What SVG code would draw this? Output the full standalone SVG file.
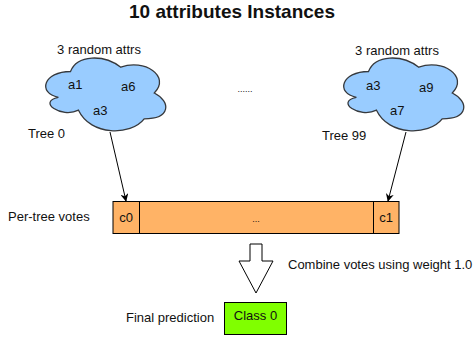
<svg xmlns="http://www.w3.org/2000/svg" width="473" height="338" viewBox="0 0 473 338">
  <style>
    text { font-family: "Liberation Sans", Arial, sans-serif; font-size: 13px; fill: #111; }
    .title { font-size: 19px; font-weight: bold; }
    .mid { text-anchor: middle; }
    .cloud { fill: #99ccff; stroke: #36393d; stroke-width: 1.3; }
    .cell { fill: #ffb366; stroke: #000; stroke-width: 1; }
    .result { fill: #80ff00; stroke: #000; stroke-width: 1; }
    .link { stroke: #000; stroke-width: 1; fill: none; marker-end: url(#head); }
    .block { fill: #fff; stroke: #000; stroke-width: 1; }
  </style>
  <defs>
    <marker id="head" viewBox="0 0 10 10" refX="9" refY="5" markerWidth="8" markerHeight="8" markerUnits="userSpaceOnUse" orient="auto">
      <path d="M0,0 L10,5 L0,10 L3,5 Z" fill="#000"/>
    </marker>
  </defs>

  <rect width="473" height="338" fill="#fff"/>

  <text class="title mid" x="232" y="18">10 attributes Instances</text>

  <g id="tree0">
    <text class="mid" x="99" y="54">3 random attrs</text>
    <path class="cloud" d="M70.5,71.5 C43.7,71.5 37,93 58.4,97.3 C37,101.6 61.1,118.8 78.5,110.2 C90.6,136 130.8,136 144.2,118.8 C171,118.8 171,101.6 154.3,93 C171,75.8 144.2,58.6 120.8,67.2 C104,54.3 77.2,54.3 70.5,71.5 Z"/>
    <text x="68" y="89">a1</text>
    <text x="121" y="91">a6</text>
    <text x="93" y="115">a3</text>
    <text x="28" y="138">Tree 0</text>
  </g>

  <g id="ellipsis">
    <text class="mid" x="245" y="92" style="font-size:9px">......</text>
  </g>

  <g id="tree99">
    <text class="mid" x="397" y="55">3 random attrs</text>
    <path class="cloud" d="M368.5,71.5 C341.7,71.5 335,93 356.4,97.3 C335,101.6 359.1,118.8 376.5,110.2 C388.6,136 428.8,136 442.2,118.8 C469,118.8 469,101.6 452.3,93 C469,75.8 442.2,58.6 418.8,67.2 C402,54.3 375.2,54.3 368.5,71.5 Z"/>
    <text x="366" y="90">a3</text>
    <text x="419" y="92">a9</text>
    <text x="390" y="115">a7</text>
    <text x="322" y="140">Tree 99</text>
  </g>

  <g id="connectors">
    <line class="link" x1="110" y1="132" x2="126" y2="201"/>
    <line class="link" x1="406" y1="132" x2="388" y2="201"/>
    <path class="block" d="M250,244 L262,244 L262,261 L273,261 L256,293 L239,261 L250,261 Z"/>
  </g>

  <g id="votes">
    <text x="8" y="221">Per-tree votes</text>
    <rect class="cell" x="113" y="201.5" width="286" height="32"/>
    <line x1="139.5" y1="201.5" x2="139.5" y2="233.5" stroke="#000"/>
    <line x1="373.5" y1="201.5" x2="373.5" y2="233.5" stroke="#000"/>
    <text class="mid" x="126" y="222">c0</text>
    <text class="mid" x="256" y="222" style="font-size:9px">...</text>
    <text class="mid" x="386" y="222">c1</text>
  </g>

  <g id="combine">
    <text x="288" y="269">Combine votes using weight 1.0</text>
  </g>

  <g id="prediction">
    <text x="126" y="322">Final prediction</text>
    <rect class="result" x="224.5" y="302.5" width="62" height="32"/>
    <text class="mid" x="255.5" y="320">Class 0</text>
  </g>
</svg>
